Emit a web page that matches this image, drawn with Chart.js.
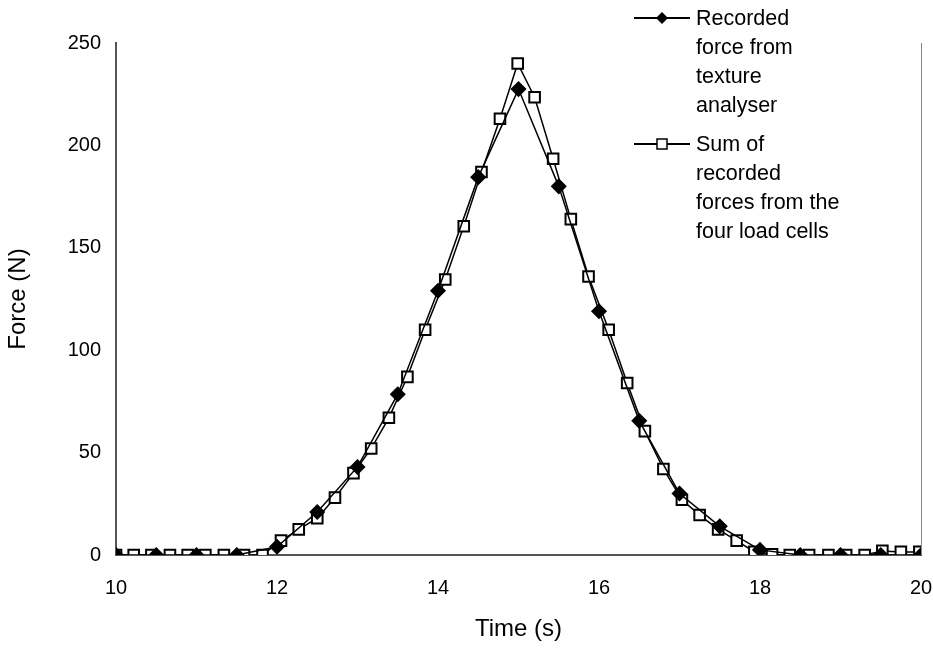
<!DOCTYPE html>
<html>
<head>
<meta charset="utf-8">
<script src="https://cdn.jsdelivr.net/npm/chart.js@4"></script>
<style>
  body { margin: 0; background: #fff; }
  #wrap { position: relative; width: 933px; height: 666px; }
  #legend { position: absolute; left: 632px; top: 4px; font-family: "Liberation Sans", Arial, sans-serif; font-size: 21.5px; line-height: 29px; color: #000; }
  .item { position: relative; padding-left: 64px; margin-bottom: 10px; }
  .item svg { position: absolute; left: 0; top: 6px; }
</style>
</head>
<body>
<div id="wrap">
  <canvas id="myChart" width="933" height="666"></canvas>
  <div id="legend">
    <div class="item"><svg width="60" height="16"><line x1="2" y1="8" x2="58" y2="8" stroke="#000" stroke-width="2"/><polygon points="30,2 36,8 30,14 24,8" fill="#000"/></svg>Recorded<br>force from<br>texture<br>analyser</div>
    <div class="item"><svg width="60" height="16"><line x1="2" y1="8" x2="58" y2="8" stroke="#000" stroke-width="2"/><rect x="25" y="3" width="10" height="10" fill="#fff" stroke="#000" stroke-width="1.5"/></svg>Sum of<br>recorded<br>forces from the<br>four load cells</div>
  </div>
</div>
<script>
// Recorded force from texture analyser
const analyserTime = [10, 10.5, 11, 11.5, 12, 12.5, 13, 13.5, 14, 14.5, 15, 15.5, 16, 16.5, 17, 17.5, 18, 18.5, 19, 19.5, 20];
const analyserForce = [0, 0, 0, 0, 4, 21, 43, 78.5, 129, 184.5, 227.5, 180, 119, 65.5, 30, 14, 2.5, 0, 0, 0, 0];

// Sum of the four load cells
const cellsTime = [10, 10.22, 10.44, 10.67, 10.89, 11.11, 11.34, 11.59, 11.82, 12.05, 12.27, 12.5, 12.72, 12.95,
  13.17, 13.39, 13.62, 13.84, 14.09, 14.32, 14.54, 14.77, 14.99, 15.2, 15.43, 15.65, 15.87, 16.12, 16.35, 16.57,
  16.8, 17.03, 17.25, 17.48, 17.71, 17.93, 18.15, 18.37, 18.61, 18.85, 19.07, 19.3, 19.52, 19.75, 19.98];
const cellsForce = [0, 0, 0, 0, 0, 0, 0, 0, 0, 7, 12.5, 18, 28, 40, 52, 67, 87, 110, 134.5, 160.5, 187, 213, 240,
  223.5, 193.5, 164, 136, 110, 84, 60.5, 42, 27, 19.5, 12.5, 7, 1.5, 0.3, 0, 0, 0, 0, 0, 2, 1.5, 1.5];

const xTicks = [10, 12, 14, 16, 18, 20];

const toPoints = (xs, ys) => xs.map((x, i) => ({ x: x, y: ys[i] }));

const rightEdge = {
  id: "rightEdge",
  afterDraw(chart) {
    const { ctx, chartArea } = chart;
    ctx.save();
    ctx.strokeStyle = "#888";
    ctx.lineWidth = 1;
    ctx.beginPath();
    ctx.moveTo(chartArea.right + 0.5, chartArea.top);
    ctx.lineTo(chartArea.right + 0.5, chartArea.bottom);
    ctx.stroke();
    ctx.restore();
  },
};

Chart.defaults.font.family = "'Liberation Sans', Arial, sans-serif";
Chart.defaults.color = "#000";

new Chart(document.getElementById("myChart").getContext("2d"), {
  type: "scatter",
  data: {
    datasets: [
      {
        label: "Recorded force from texture analyser",
        data: toPoints(analyserTime, analyserForce),
        showLine: true,
        borderColor: "#000",
        borderWidth: 1.5,
        pointStyle: "rectRot",
        pointRadius: 7,
        pointBackgroundColor: "#000",
        pointBorderColor: "#000",
      },
      {
        label: "Sum of recorded forces from the four load cells",
        data: toPoints(cellsTime, cellsForce),
        showLine: true,
        borderColor: "#000",
        borderWidth: 1.5,
        pointStyle: "rect",
        pointRadius: 7.5,
        pointBorderWidth: 2,
        pointBackgroundColor: "#fff",
        pointBorderColor: "#000",
      },
    ],
  },
  options: {
    responsive: false,
    animation: false,
    layout: { padding: { top: 43, right: 12, bottom: 18 } },
    plugins: { legend: { display: false }, tooltip: { enabled: false } },
    scales: {
      x: {
        type: "linear",
        min: 10,
        max: 20,
        afterBuildTicks: (axis) => { axis.ticks = xTicks.map((v) => ({ value: v })); },
        afterFit: (axis) => { axis.height = 93; axis.paddingRight = 0; axis.paddingLeft = 0; },
        grid: { display: false, drawTicks: true, tickLength: 7, tickColor: "#555" },
        border: { color: "#555", width: 2 },
        ticks: { font: { size: 20 }, padding: 14 },
        title: { display: true, text: "Time (s)", font: { size: 24 }, padding: { top: 8 } },
      },
      y: {
        min: 0,
        max: 250,
        afterFit: (axis) => { axis.width = 116; },
        grid: { display: false, drawTicks: true, tickLength: 7, tickColor: "#555" },
        border: { color: "#555", width: 2 },
        ticks: { stepSize: 50, font: { size: 20 }, padding: 8 },
        title: { display: true, text: "Force (N)", font: { size: 24 }, padding: { bottom: 10 } },
      },
    },
  },
  plugins: [rightEdge],
});
</script>
</body>
</html>
